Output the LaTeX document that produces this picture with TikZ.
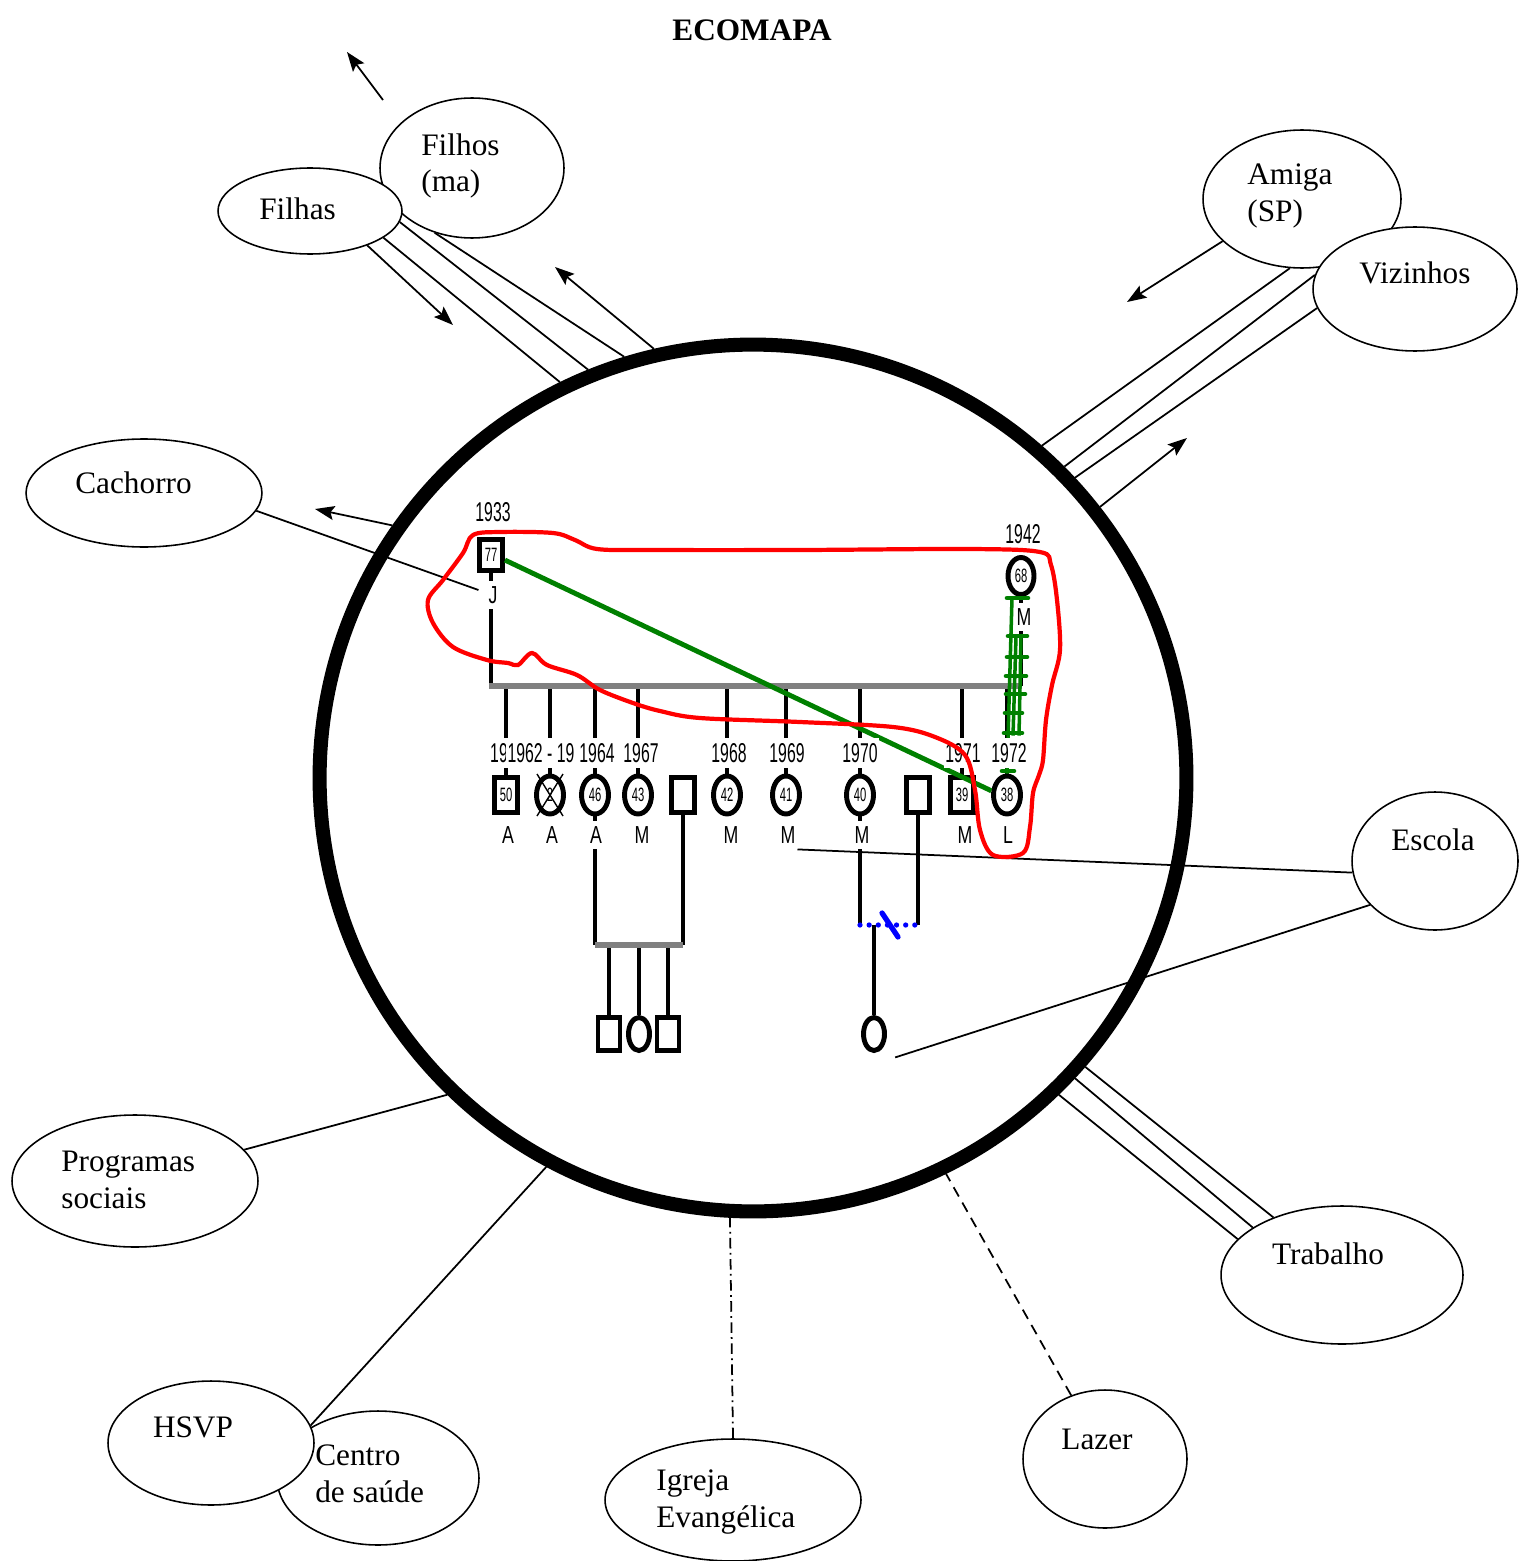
\documentclass[tikz,border=0pt]{standalone}
\usepackage{fontspec}
\setmainfont{Liberation Serif}
\newfontfamily\genofont[FakeStretch=0.58]{Liberation Sans}
\newfontfamily\letrafont[FakeStretch=0.72]{Liberation Sans}
\usetikzlibrary{shapes.geometric}
\usetikzlibrary{arrows.meta}
\usetikzlibrary{calc}
\definecolor{verdeg}{RGB}{0,128,0}
\pgfdeclarelayer{fundo}
\pgfdeclarelayer{frente}
\pgfsetlayers{fundo,main,frente}

\begin{document}
\begin{tikzpicture}[x=0.02cm, y=-0.02cm, >={Stealth[length=11pt,width=8pt,inset=2pt]},
  entidade/.style={ellipse, draw, fill=white, line width=0.9pt, inner sep=0pt},
  texto/.style={font=\fontsize{17.8}{21}\selectfont, inner sep=0pt, align=left},
  vinculo/.style={line width=1pt},
  homem/.style={rectangle, draw, fill=white, line width=2.8pt, minimum width=0.46cm, minimum height=0.70cm, inner sep=0pt, font=\genofont\fontsize{11}{10}\selectfont},
  mulher/.style={ellipse, draw, fill=white, line width=2.8pt, minimum width=0.54cm, minimum height=0.76cm, inner sep=0pt, font=\genofont\fontsize{11}{10}\selectfont},
  ano/.style={fill=white, inner xsep=1pt, inner ysep=3pt, text height=11pt, text depth=0pt, font=\genofont\fontsize{15.5}{16}\selectfont},
  letra/.style={fill=white, inner xsep=1pt, inner ysep=3pt, text height=10pt, text depth=0pt, font=\letrafont\fontsize{14}{15}\selectfont},
  linha/.style={line width=2.8pt},
  uniao/.style={line width=3.2pt, color=gray},
  verde/.style={line width=2.8pt, color=verdeg},
  conflito/.style={line width=2pt, color=verdeg},
  separado/.style={line width=3pt, color=blue, dash pattern=on 0pt off 5.2pt, line cap=round},
  corte/.style={line width=3pt, color=blue, line cap=round},
  contorno/.style={line width=2.4pt, color=red},
  tracejado/.style={dash pattern=on 6pt off 4pt},
  pontotraco/.style={dash pattern=on 6pt off 2.5pt on 1pt off 2.5pt}]

  \useasboundingbox (0,0) rectangle (1518,1561);

  \node[texto, font=\bfseries\fontsize{17.8}{21}\selectfont] (titulo) at (752,30) {ECOMAPA};

  % circulo da familia
  \node[draw, circle, line width=8pt, minimum size=17.34cm, inner sep=0pt] (familia) at (753,778) {};

  % entidades
  \node[entidade, minimum width=3.68cm, minimum height=2.80cm] (filhos) at (472,168) {};
  \node[entidade, minimum width=3.68cm, minimum height=1.72cm] (filhas) at (310,211) {};
  \node[entidade, minimum width=3.96cm, minimum height=2.76cm] (amiga) at (1302,199) {};
  \node[entidade, minimum width=4.08cm, minimum height=2.48cm] (vizinhos) at (1415,289) {};
  \node[entidade, minimum width=4.72cm, minimum height=2.16cm] (cachorro) at (144,493) {};
  \node[entidade, minimum width=3.32cm, minimum height=2.76cm] (escola) at (1435,861) {};
  \node[entidade, minimum width=4.84cm, minimum height=2.76cm] (trabalho) at (1342,1275) {};
  \node[entidade, minimum width=3.28cm, minimum height=2.76cm] (lazer) at (1105,1459) {};
  \node[entidade, minimum width=5.12cm, minimum height=2.44cm] (igreja) at (733,1500) {};
  \node[entidade, minimum width=4.92cm, minimum height=2.64cm] (programas) at (135,1181) {};
  \node[entidade, minimum width=4.04cm, minimum height=2.68cm] (centro) at (378,1478) {};
  \node[entidade, minimum width=4.12cm, minimum height=2.48cm] (hsvp) at (211,1443) {};

  \node[texto, anchor=west] (t-filhos) at (421,166) {Filhos\\(ma)};
  \node[texto, anchor=west] (t-filhas) at (259,209) {Filhas};
  \node[texto, anchor=west] (t-amiga) at (1247,196) {Amiga\\(SP)};
  \node[texto] (t-vizinhos) at (1415,273) {Vizinhos};
  \node[texto, anchor=west] (t-cachorro) at (75,483) {Cachorro};
  \node[texto] (t-escola) at (1433,840) {Escola};
  \node[texto] (t-trabalho) at (1328,1254) {Trabalho};
  \node[texto] (t-lazer) at (1097,1439) {Lazer};
  \node[texto, anchor=west] (t-igreja) at (656,1502) {Igreja\\Evang\'elica};
  \node[texto, anchor=west] (t-programas) at (61,1180) {Programas\\sociais};
  \node[texto] (t-hsvp) at (193,1427) {HSVP};
  \node[texto, anchor=west] (t-centro) at (315,1474) {Centro\\de sa\'ude};

  % genograma
  \node[homem, minimum height=0.62cm] (pai) at (491,555) {77};
  \node[mulher, minimum width=0.52cm, minimum height=0.74cm] (mae) at (1021,576) {68};

  \node[homem] (f1) at (506,795) {50};
  \node[mulher] (f2) at (550,795) {2};
  \node[mulher] (f3) at (595,795) {46};
  \node[mulher] (f4) at (638,795) {43};
  \node[homem] (g1) at (683,795) {};
  \node[mulher] (f5) at (727,795) {42};
  \node[mulher] (f6) at (786,795) {41};
  \node[mulher] (f7) at (860,795) {40};
  \node[homem] (g2) at (918,795) {};
  \node[homem] (f8) at (962,795) {39};
  \node[mulher] (f9) at (1007,795) {38};

  \node[homem, minimum width=0.44cm, minimum height=0.66cm] (n1) at (609,1034) {};
  \node[mulher, minimum width=0.42cm, minimum height=0.66cm] (n2) at (639,1034) {};
  \node[homem, minimum width=0.44cm, minimum height=0.66cm] (n3) at (668,1034) {};
  \node[mulher, minimum width=0.42cm, minimum height=0.66cm] (n4) at (874,1034) {};

  % relacoes
  \draw[verde] (pai.-20) -- (f9.165);
  \draw[conflito] ($(mae.south)+(-9,1)$) -- (f9.north);
  \draw[conflito] ($(mae.south)+(-5,40)$) -- ($(f9.north)+(6,-38)$);
  \draw[conflito] ($(mae.south)+(0,40)$) -- ($(f9.north)+(12,-38)$);
  \draw[conflito, line width=2.6pt, line cap=round]
    (1007,598) -- (1028,598) (1008,636) -- (1027,636) (1007,657) -- (1027,657)
    (1006,676) -- (1026,676) (1006,694) -- (1025,694) (1005,713) -- (1022,713)
    (1004,733) -- (1022,733) (1002,771) -- (1014,771);

  \node[ano] (a-pai) at (493,512) {1933};
  \node[ano] (a-mae) at (1023,534) {1942};
  \node[letra] (l-pai) at (493,595) {J};
  \node[letra, inner xsep=0.5pt] (l-mae) at (1024,617) {M};

  \node[ano] (y1) at (499,753) {19};
  \node[ano] (y2) at (541,753) {1962 - 19};
  \node[ano] (y3) at (597,753) {1964};
  \node[ano] (y4) at (641,753) {1967};
  \node[ano] (y5) at (729,753) {1968};
  \node[ano] (y6) at (787,753) {1969};
  \node[ano] (y7) at (860,753) {1970};
  \node[ano] (y8) at (963,753) {1971};
  \node[ano] (y9) at (1009,753) {1972};

  \node[letra] (l1) at (508,835) {A};
  \node[letra] (l2) at (552,835) {A};
  \node[letra] (l3) at (596,835) {A};
  \node[letra] (l4) at (642,835) {M};
  \node[letra] (l5) at (731,835) {M};
  \node[letra] (l6) at (788,835) {M};
  \node[letra] (l7) at (862,835) {M};
  \node[letra] (l8) at (965,835) {M};
  \node[letra] (l9) at (1008,835) {L};

  \coordinate (irm-e) at (489,686);
  \coordinate (irm-d) at (1022,686);
  \coordinate (u1e) at (595,945);
  \coordinate (u1d) at (683,945);
  \coordinate (u2e) at (860,925);
  \coordinate (u2d) at (918,925);
  \coordinate (seta-fora) at (347,52);
  \coordinate (saida-filhos) at (383,100);
  \coordinate (seta-filhas) at (453,325);
  \coordinate (seta-filhos) at (555,267);
  \coordinate (seta-amiga) at (1127,302);
  \coordinate (seta-vizinhos) at (1187,438);
  \coordinate (seta-cachorro) at (315,509);

  \begin{pgfonlayer}{fundo}
    % vinculos do ecomapa
    \path[vinculo]
      (filhas.-20) edge (familia.116.5)
      (filhas.-7) edge (familia.112.9)
      (filhos.-120) edge (familia.107.8)
      (amiga.-100) edge (familia.49.4)
      (vizinhos.172) edge (familia.45.9)
      (vizinhos.-169) edge (familia.43)
      (cachorro.-9) edge ($(l-pai.west)+(-8,-5)$)
      (escola.-172) edge (l6.south east)
      (escola.-146) edge ($(n4.south east)+(12,10)$)
      (trabalho.140.4) edge (familia.-41.3)
      (trabalho.152.9) edge (familia.-43.4)
      (trabalho.161.9) edge (familia.-46.2)
      (programas.16.6) edge (familia.226)
      (hsvp.10) edge (familia.242.1)
      (lazer.118) edge[tracejado] (familia.-64.7)
      (igreja.north) edge[pontotraco] (familia.-93.2)
    ;
    \path[vinculo, ->]
      (saida-filhos) edge (seta-fora)
      (filhas.-31) edge (seta-filhas)
      (familia.103) edge (seta-filhos)
      (amiga.-152) edge (seta-amiga)
      (familia.38) edge (seta-vizinhos)
      (familia.145.7) edge (seta-cachorro)
    ;

    % linhas do genograma
    \draw[linha] (pai) -- (pai |- irm-e);
    \draw[linha] (mae) -- (mae |- irm-e);
    \draw[linha] (f1) -- (f1 |- irm-e);
    \draw[linha] (f2) -- (f2 |- irm-e);
    \draw[linha] (f3) -- (f3 |- irm-e);
    \draw[linha] (f4) -- (f4 |- irm-e);
    \draw[linha] (f5) -- (f5 |- irm-e);
    \draw[linha] (f6) -- (f6 |- irm-e);
    \draw[linha] (f7) -- (f7 |- irm-e);
    \draw[linha] (f8) -- (f8 |- irm-e);
    \draw[linha] (f9) -- (f9 |- irm-e);
    \draw[uniao] (irm-e) -- (irm-d);

    \draw[linha] (f3) -- (u1e);
    \draw[linha] (g1) -- (u1d);
    \draw[linha] (n1) -- (n1 |- u1e);
    \draw[linha] (n2) -- (n2 |- u1e);
    \draw[linha] (n3) -- (n3 |- u1e);
    \draw[uniao] (u1e) -- (u1d);

    \draw[linha] (f7) -- (u2e);
    \draw[linha] (g2) -- (u2d);
    \draw[linha] (n4) -- (n4 |- u2e);
    \draw[separado] (u2e) -- (u2d);
    \path ($(u2e)!0.5!(u2d)$) coordinate (u2m);
    \draw[corte] ([shift={(-7,-12)}]u2m) -- ([shift={(9,12)}]u2m);
  \end{pgfonlayer}

  % contorno vermelho
  \begin{pgfonlayer}{frente}
    \draw[contorno] plot[smooth cycle, tension=0.55] coordinates {
      (473,535) (500,532) (553,533) (575,540) (597,549) (650,550) (800,550)
      (970,549) (1040,552) (1051,565) (1057,600) (1060,650) (1052,685)
      (1046,720) (1043,760) (1039,775) (1033,793) (1030,827) (1023,853)
      (993,855) (980,830) (975,790) (965,755) (935,737) (893,727) (800,722)
      (700,718) (660,711) (633,703) (600,690) (577,675) (547,665) (532,653)
      (518,665) (508,663) (487,660) (453,647) (433,623) (428,600) (443,580)
      (463,553)};
    \draw[line width=0.8pt] ([shift={(-13,-21)}]f2.center) -- ([shift={(13,21)}]f2.center);
    \draw[line width=0.8pt] ([shift={(13,-21)}]f2.center) -- ([shift={(-13,21)}]f2.center);
  \end{pgfonlayer}
\end{tikzpicture}
\end{document}
